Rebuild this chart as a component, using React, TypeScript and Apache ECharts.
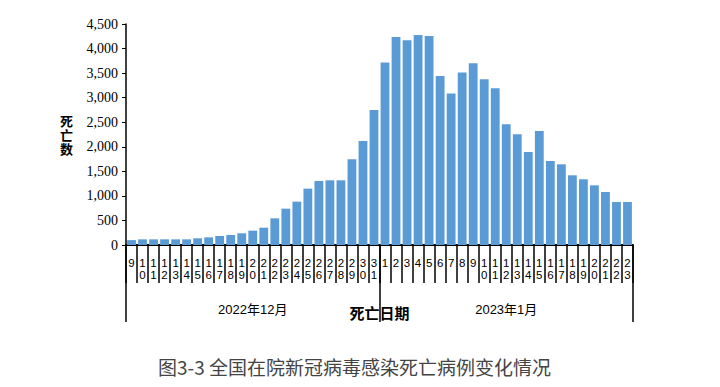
import React, { useEffect, useRef } from "react";
import * as echarts from "echarts";

const dayLabels: string[] = [
  "9","10","11","12","13","14","15","16","17","18","19","20","21","22","23","24","25","26","27","28","29","30","31",
  "1","2","3","4","5","6","7","8","9","10","11","12","13","14","15","16","17","18","19","20","21","22","23",
];
const deaths: number[] = [
  100, 115, 115, 115, 115, 115, 136, 156, 183, 204, 238, 292, 353, 543, 740, 883, 1148, 1304, 1317, 1317, 1745, 2118, 2750,
  3714, 4237, 4169, 4278, 4257, 3442, 3083, 3510, 3700, 3375, 3191, 2458, 2254, 1894, 2322, 1711, 1643, 1419, 1338, 1215, 1079, 876, 876,
];
const months: string[] = ["2022年12月", "2023年1月"];
const yTicks = { min: 0, max: 4500, interval: 500 };
const caption = "图3-3 全国在院新冠病毒感染死亡病例变化情况";

export default function App() {
  const ref = useRef<HTMLDivElement>(null);
  useEffect(() => {
    if (!ref.current) return;
    const chart = echarts.init(ref.current, null, { renderer: "svg" });
    const sans = "'Liberation Sans', 'Noto Sans CJK SC', sans-serif";
    chart.setOption({
      animation: false,
      backgroundColor: "#fff",
      title: {
        text: caption,
        left: 153,
        top: 352,
        textStyle: { fontSize: 19, fontWeight: "normal", color: "#444", fontFamily: "'Noto Sans CJK SC', sans-serif" },
      },
      grid: { left: 126, right: 87, top: 24, bottom: 142, containLabel: false },
      xAxis: [
        {
          type: "category",
          data: dayLabels,
          position: "bottom",
          boundaryGap: true,
          axisLine: { show: true, lineStyle: { color: "#000", width: 2 } },
          axisTick: { show: true, interval: 0, length: 38, lineStyle: { color: "#000", width: 1.5 } },
          axisLabel: {
            interval: 0,
            margin: 12,
            fontSize: 11.5,
            lineHeight: 12,
            color: "#000",
            fontFamily: sans,
            formatter: (v: string) => v.split("").join("\n"),
          },
          name: "死亡日期",
          nameLocation: "middle",
          nameGap: 60,
          nameTextStyle: { fontSize: 15, fontWeight: "bold", color: "#000", fontFamily: "'Noto Sans CJK SC', serif" },
        },
        {
          type: "category",
          data: months,
          position: "bottom",
          boundaryGap: true,
          axisLine: { show: false },
          axisTick: { show: true, interval: 0, length: 77, lineStyle: { color: "#000", width: 1.5 } },
          axisLabel: {
            interval: 0,
            margin: 58,
            fontSize: 13,
            color: "#000",
            fontFamily: sans,
          },
        },
      ],
      yAxis: {
        type: "value",
        min: yTicks.min,
        max: yTicks.max,
        interval: yTicks.interval,
        splitLine: { show: false },
        axisLine: { show: true, lineStyle: { color: "#000", width: 1.5 } },
        axisTick: { show: true, length: 4, lineStyle: { color: "#000", width: 1 } },
        axisLabel: {
          margin: 8,
          fontSize: 14,
          color: "#000",
          fontFamily: "'Liberation Serif', 'DejaVu Serif', serif",
          formatter: (v: number) => v.toLocaleString("en-US"),
        },
        name: "死\n亡\n数",
        nameLocation: "middle",
        nameRotate: 0,
        nameGap: 53,
        nameTextStyle: { fontSize: 13, fontWeight: "bold", color: "#000", lineHeight: 14, fontFamily: "'Noto Sans CJK SC', serif" },
      },
      series: [
        {
          type: "bar",
          xAxisIndex: 0,
          data: deaths,
          barCategoryGap: "20%",
          itemStyle: { color: "#5B9BD5" },
        },
      ],
    });
    return () => chart.dispose();
  }, []);
  return <div ref={ref} style={{ width: 720, height: 387, position: "absolute", left: 0, top: 0 }} />;
}
